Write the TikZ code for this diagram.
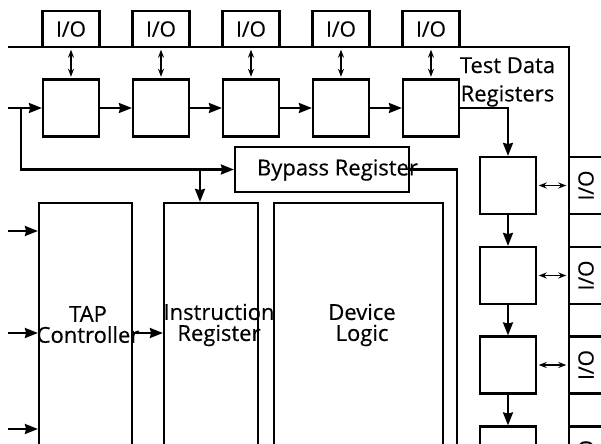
\documentclass[tikz,border=0pt]{standalone}
\usepackage{fontspec}
\setmainfont{Open Sans}[FakeBold=0.4]
\usetikzlibrary{arrows.meta, calc}

\begin{document}
\begin{tikzpicture}[x=0.5pt, y=-0.5pt,
  wire/.style={line width=1.1pt},
  arr/.style={wire, -{Stealth[length=6.5pt, width=5pt, inset=0.6pt]}},
  dbl/.style={line width=0.7pt, {Stealth[length=4pt, width=3pt]}-{Stealth[length=4pt, width=3pt]}, shorten <=0.8pt, shorten >=0.8pt},
  reg/.style={draw, line width=1.1pt, minimum width=28pt, minimum height=28.5pt, inner sep=0pt},
  io/.style={draw, line width=1.1pt, minimum width=28.5pt, minimum height=18pt, inner sep=0pt, font=\fontsize{10.5}{10.5}\selectfont},
  sideio/.style={io, minimum width=28.5pt, minimum height=17pt, rotate=90},
  big/.style={draw, line width=1.1pt, minimum height=130pt, inner sep=0pt},
  lbl/.style={align=center, inner sep=0pt, font=\fontsize{11}{10.5}\selectfont}]
  \useasboundingbox (0,0) rectangle (601,444);
  \clip (0,0) rectangle (601,444);

  \coordinate (chipnw) at (8,47);
  \coordinate (chipse) at (569,470);
  \draw[wire] (chipnw) -| (chipse);

  \node[io] (io1) at (71,29) {I/O};
  \node[io] (io2) at (161,29) {I/O};
  \node[io] (io3) at (251,29) {I/O};
  \node[io] (io4) at (341,29) {I/O};
  \node[io] (io5) at (431,29) {I/O};

  \node[reg] (rg1) at (71,108) {};
  \node[reg] (rg2) at (161,108) {};
  \node[reg] (rg3) at (251,108) {};
  \node[reg] (rg4) at (341,108) {};
  \node[reg] (rg5) at (431,108) {};

  \node[reg] (col1) at (508,185.5) {};
  \node[reg] (col2) at (508,275.5) {};
  \node[reg] (col3) at (508,365) {};
  \node[reg] (col4) at (508,455) {};

  \node[sideio] (rio1) at (586,185.5) {I/O};
  \node[sideio] (rio2) at (586,275.5) {I/O};
  \node[sideio] (rio3) at (586,365) {I/O};
  \node[sideio] (rio4) at (586,455) {I/O};

  \node[draw, line width=1.1pt, minimum width=87pt, minimum height=22.5pt] (bypass) at (322,169.5) {};
  \node[big, minimum width=46.5pt] (tap) at (85.5,333) {};
  \node[big, minimum width=47pt] (ir) at (211,333) {};
  \node[big, minimum width=84.5pt] (dev) at (358.5,333) {};

  \node[lbl] (taplbl) at (88,324.5) {TAP\\Controller};
  \node[lbl] (irlbl) at (219,325) {Instruction\\Register};
  \node[lbl] (devlbl) at (362,325) {Device\\Logic};
  \node[lbl] (bplbl) at (337.5,170) {Bypass Register};
  \node[lbl, font=\fontsize{11}{14.2}\selectfont] (tdrlbl) at (507.5,82) {Test Data\\Registers};

  \coordinate (tdi) at (8,108);
  \coordinate (split) at (21,108);
  \coordinate (tms) at (8,231);
  \coordinate (tck) at (8,333);
  \coordinate (trst) at (8,429);
  \coordinate (bpout) at (457,470);

  \draw[arr] (tdi) -- (rg1);
  \draw[arr] (split) |- (bypass.west);
  \draw[arr] ([xshift=-5.5pt]ir.north |- bypass.west) -- ([xshift=-5.5pt]ir.north);
  \draw[arr] (rg5.east) -| (col1.north);
  \draw[wire] (bypass.east) -| (bpout);
  \path[arr]
    (rg1) edge (rg2)
    (rg2) edge (rg3)
    (rg3) edge (rg4)
    (rg4) edge (rg5)
    (col1) edge (col2)
    (col2) edge (col3)
    (col3) edge (col4)
    (tms) edge (tms -| tap.west)
    (tck) edge (tap)
    (trst) edge (trst -| tap.west)
    (tap) edge (ir);
  \path[dbl]
    (io1) edge (rg1)
    (io2) edge (rg2)
    (io3) edge (rg3)
    (io4) edge (rg4)
    (io5) edge (rg5)
    (col1) edge (rio1)
    (col2) edge (rio2)
    (col3) edge (rio3);
\end{tikzpicture}
\end{document}
